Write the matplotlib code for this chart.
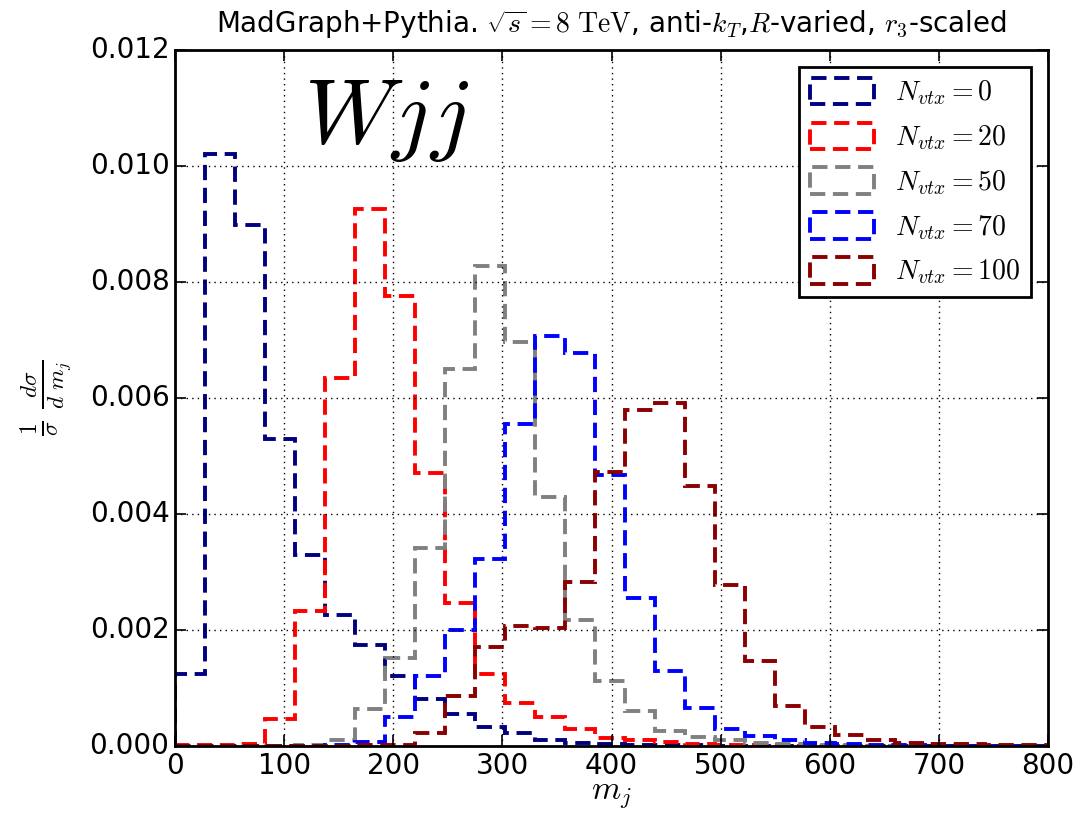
import numpy as np
import matplotlib
matplotlib.use('Agg')
import matplotlib.pyplot as plt

plt.style.use('classic')
plt.rcParams['mathtext.fontset'] = 'cm'
plt.rcParams['font.family'] = ['DejaVu Sans']
plt.rcParams['lines.scale_dashes'] = False

# jet mass binning (GeV)
edges = np.arange(0, 825.1, 27.5)

# normalised jet-mass distributions for each pile-up level
nvtx_0 = [0.00124, 0.0102, 0.00898, 0.0053, 0.0033, 0.00226, 0.00175, 0.0012,
          0.00081, 0.00055, 0.00033, 0.00023, 0.0001, 0.00005, 0.00003, 0.00002,
          0.00001, 0.00001, 0, 0, 0, 0, 0, 0, 0, 0, 0, 0, 0, 0]
nvtx_20 = [0.00001, 0.00001, 0.00004, 0.00046, 0.00232, 0.00634, 0.00925, 0.00776,
           0.00471, 0.00246, 0.00125, 0.00074, 0.0005, 0.00029, 0.00014, 0.0001,
           0.00007, 0.00004, 0.00002, 0.00001, 0, 0, 0, 0, 0, 0, 0, 0, 0, 0]
nvtx_50 = [0, 0, 0, 0, 0.00001, 0.0001, 0.00063, 0.00152, 0.00341, 0.0065,
           0.00828, 0.00697, 0.0043, 0.00218, 0.00112, 0.00061, 0.00026, 0.00016,
           0.0001, 0.00005, 0.00003, 0.00002, 0.00001, 0, 0, 0, 0, 0, 0, 0]
nvtx_70 = [0, 0, 0, 0, 0, 0.00002, 0.00007, 0.0005, 0.0012, 0.002, 0.00322,
           0.00556, 0.00707, 0.00677, 0.00468, 0.00256, 0.00129, 0.00066, 0.0003,
           0.00018, 0.0001, 0.00005, 0.00003, 0.00002, 0.00001, 0, 0, 0, 0, 0]
nvtx_100 = [0, 0, 0, 0, 0, 0, 0.00001, 0.00002, 0.00022, 0.00086, 0.00171,
            0.00207, 0.00203, 0.00283, 0.00472, 0.0058, 0.00591, 0.00449, 0.00278,
            0.00147, 0.00069, 0.00033, 0.00019, 0.0001, 0.00006, 0.00004, 0.00003,
            0.00002, 0.00001, 0.00001]

series = [(nvtx_0, '#000080', '$N_{vtx}=0$'),
          (nvtx_20, '#ff0000', '$N_{vtx}=20$'),
          (nvtx_50, '#808080', '$N_{vtx}=50$'),
          (nvtx_70, '#0000ff', '$N_{vtx}=70$'),
          (nvtx_100, '#8b0000', '$N_{vtx}=100$')]

fig = plt.figure(figsize=(10.9, 8.14), dpi=100, facecolor='white')
ax = fig.add_axes([0.1606, 0.0835, 0.801, 0.8551])

for vals, col, lab in series:
    ax.hist(edges[:-1], bins=edges, weights=vals, histtype='step',
            color=col, lw=2.8, linestyle=(0, (11, 5.5)), label=lab)

ax.set_xlim(0, 800)
ax.set_ylim(0, 0.012)
ax.set_yticks(np.arange(0, 0.0121, 0.002))
ax.yaxis.set_major_formatter(matplotlib.ticker.FormatStrFormatter('%.3f'))
ax.grid(True, linestyle=':', color='black', lw=1.0)
ax.tick_params(labelsize=20, length=8, width=1.2)
for sp in ax.spines.values():
    sp.set_linewidth(2)

ax.set_title('MadGraph+Pythia. $\\sqrt{s}=8\\ \\mathrm{TeV}$, anti-$k_T$,$R$-varied, $r_3$-scaled',
             fontsize=20, pad=12)
ax.set_xlabel('$m_j$', fontsize=24, labelpad=-2)
ax.set_ylabel('$\\frac{1}{\\sigma}\\ \\frac{d\\sigma}{d\\ m_j}$', fontsize=24, labelpad=12)

ax.text(118, 0.0104, '$Wjj$', fontsize=67)

leg = ax.legend(loc='upper right', fontsize=20, borderaxespad=0.6,
                handlelength=2.3, handleheight=1.1, labelspacing=0.55,
                handletextpad=0.75)
leg.get_frame().set_linewidth(2)

fig.savefig('out.png', dpi=100, facecolor='white')
